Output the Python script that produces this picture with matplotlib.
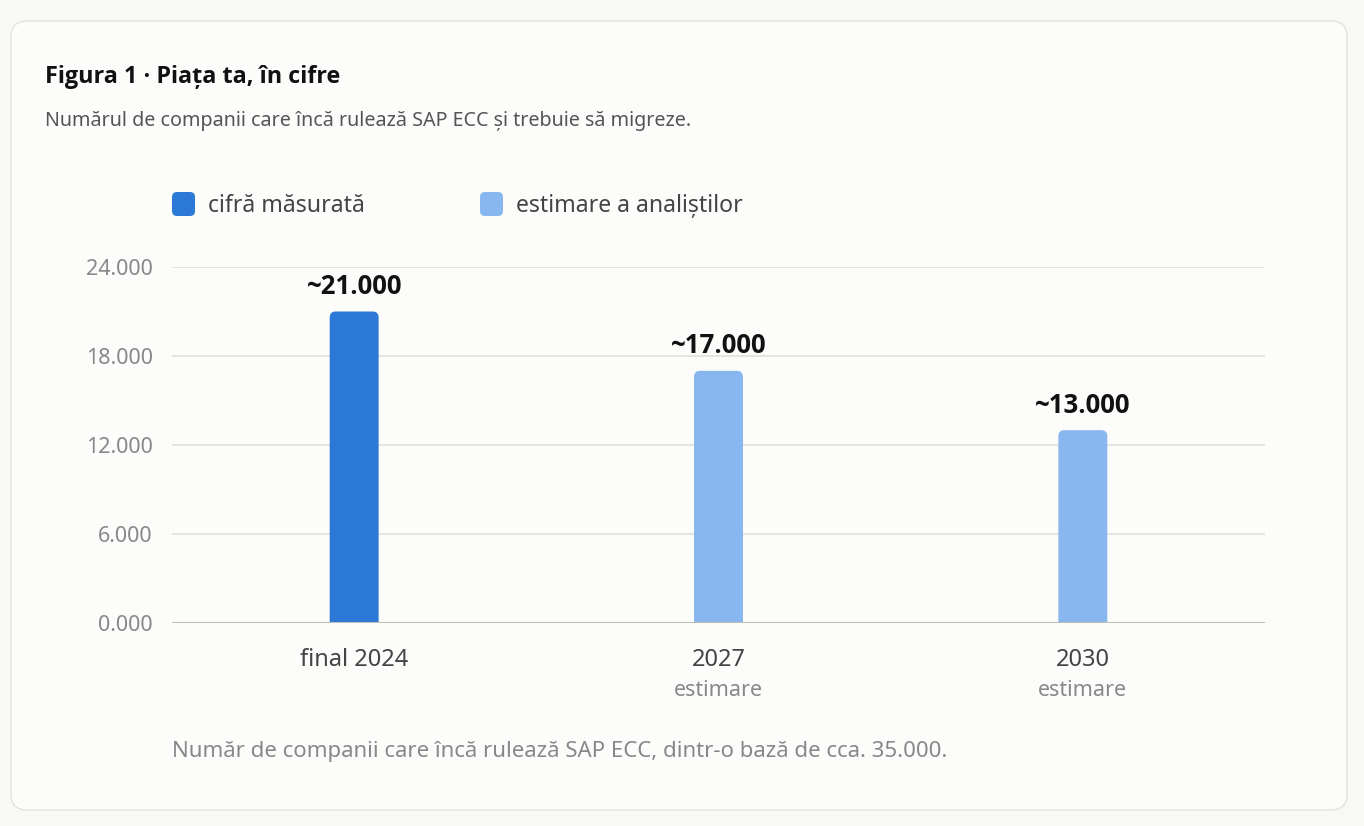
import matplotlib
matplotlib.use("Agg")
import matplotlib.pyplot as plt
from matplotlib.patches import FancyBboxPatch

plt.rcParams['font.family'] = ['Noto Sans', 'DejaVu Sans']
BOLD = ['Open Sans', 'DejaVu Sans']

# data
categories = ["final 2024", "2027", "2030"]
sublabels = ["", "estimare", "estimare"]
values = [21000, 17000, 13000]
value_labels = ["~21.000", "~17.000", "~13.000"]
measured = [True, False, False]
yticks = [0, 6000, 12000, 18000, 24000]
ytick_labels = ["0.000", "6.000", "12.000", "18.000", "24.000"]

c_dark = "#2b78d6"
c_light = "#88b6ee"

W, H = 1364, 826
fig = plt.figure(figsize=(W / 100, H / 100), dpi=100)
fig.patch.set_facecolor("#f8f8f6")

# card
card = FancyBboxPatch((11 / W, 16 / H), 1336 / W, 789 / H,
                      boxstyle="round,pad=0,rounding_size=%f" % (16 / W),
                      mutation_aspect=W / H, transform=fig.transFigure,
                      facecolor="#fcfcfa", edgecolor="#e2e2e0", linewidth=1.0, zorder=-10)
fig.patches.append(card)

fig.text(45 / W, 1 - 77 / H, "Figura 1 · Piața ta, în cifre", fontsize=16.8, fontweight="bold",
         family=BOLD, color="#111111", va="center", ha="left")
fig.text(45 / W, 1 - 121 / H, "Numărul de companii care încă rulează SAP ECC și trebuie să migreze.",
         fontsize=14.2, color="#555555", va="center", ha="left")

# legend
for x0, col, lab in [(172, c_dark, "cifră măsurată"), (480, c_light, "estimare a analiștilor")]:
    sq = FancyBboxPatch((x0 / W, (H - 216) / H), 23 / W, 24 / H,
                        boxstyle="round,pad=0,rounding_size=%f" % (5 / W),
                        mutation_aspect=W / H, transform=fig.transFigure,
                        facecolor=col, edgecolor="none")
    fig.patches.append(sq)
    fig.text((x0 + 36) / W, 1 - 206 / H, lab, fontsize=16.6, color="#444444", va="center", ha="left")

ax = fig.add_axes([172 / W, (H - 623) / H, 1093 / W, 356 / H])
ax.set_facecolor("none")
ax.set_xlim(-0.5, 2.5)
ax.set_ylim(0, 24000)

bw = 49 / 365
# data units per pixel, for round corners
px_x = 3 / 1093
px_y = 24000 / 356
aspect = px_y / px_x
r = 6 * px_x

for i, (v, m) in enumerate(zip(values, measured)):
    col = c_dark if m else c_light
    # start below zero so the axes clip hides the lower rounded corners
    rb = FancyBboxPatch((i - bw / 2, -20 * px_y), bw, v + 20 * px_y,
                        boxstyle="round,pad=0,rounding_size=%f" % r,
                        mutation_aspect=aspect, facecolor=col, edgecolor="none", zorder=3)
    ax.add_patch(rb)
    ax.text(i, v + 25 * px_y, value_labels[i], ha="center", va="center", fontsize=18.5,
            fontweight="bold", family=BOLD, color="#111111", clip_on=False)

ax.set_yticks(yticks)
ax.set_yticklabels(ytick_labels)
ax.set_xticks(range(len(categories)))
ax.set_xticklabels(categories)
ax.tick_params(axis="y", length=0, pad=14, labelsize=15.5, labelcolor="#888888")
ax.tick_params(axis="x", length=0, pad=18, labelsize=17, labelcolor="#444444")

for i, s in enumerate(sublabels):
    if s:
        ax.text(i, -68 * px_y, s, ha="center", va="center", fontsize=15.5, color="#888888", clip_on=False)

ax.grid(axis="y", color="#e2e2e0", linewidth=1.3, zorder=0)
ax.set_axisbelow(True)
for sp in ax.spines.values():
    sp.set_visible(False)
ax.axhline(0, color="#bdbdb9", linewidth=1.5, zorder=4)

fig.text(172 / W, 1 - 752 / H, "Număr de companii care încă rulează SAP ECC, dintr-o bază de cca. 35.000.",
         fontsize=16, color="#888888", va="center", ha="left")

fig.savefig("out.png", dpi=100, facecolor=fig.get_facecolor())
